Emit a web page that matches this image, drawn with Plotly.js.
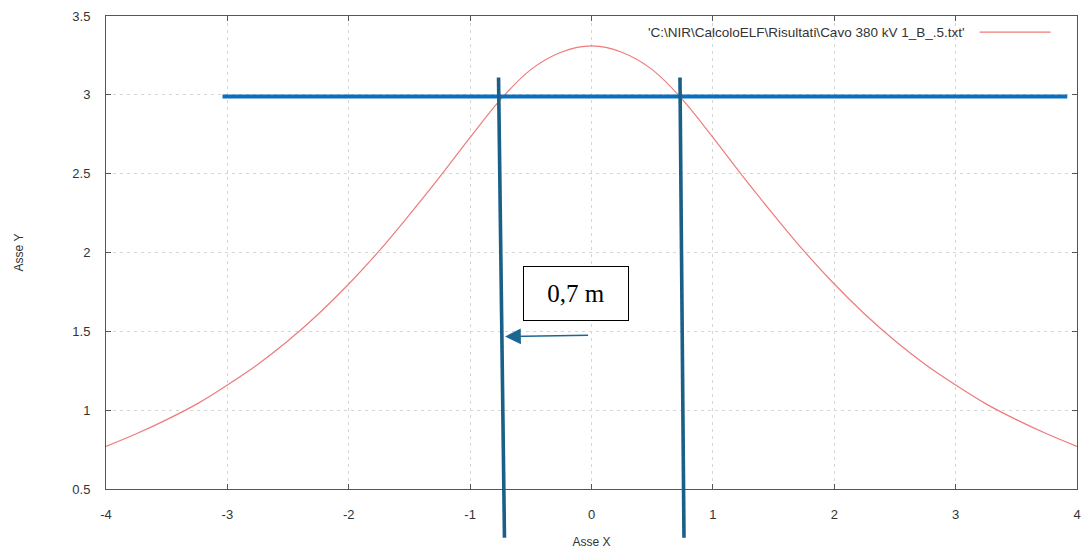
<!DOCTYPE html>
<html>
<head>
<meta charset="utf-8">
<script src="https://cdn.plot.ly/plotly-3.0.1.min.js"></script>
<style>
  html, body { margin: 0; padding: 0; background: #ffffff; }
  #chart { width: 1082px; height: 555px; }
</style>
</head>
<body>
<div id="chart"></div>
<script>
// Field profile along the transverse axis (x in metres)
const seriesName = "'C:\\NIR\\CalcoloELF\\Risultati\\Cavo 380 kV 1_B_.5.txt'";
const xValues = [-4, -3.75, -3.5, -3.25, -3, -2.75, -2.5, -2.25, -2, -1.75, -1.5, -1.25, -1, -0.75, -0.5, -0.25, 0,
                 0.25, 0.5, 0.75, 1, 1.25, 1.5, 1.75, 2, 2.25, 2.5, 2.75, 3, 3.25, 3.5, 3.75, 4];
const yValues = [0.77, 0.85, 0.94, 1.04, 1.16, 1.29, 1.44, 1.61, 1.80, 2.01, 2.24, 2.48, 2.73, 2.97, 3.16, 3.27, 3.31,
                 3.27, 3.16, 2.97, 2.73, 2.48, 2.24, 2.01, 1.80, 1.61, 1.44, 1.29, 1.16, 1.04, 0.94, 0.85, 0.77];

// Threshold and crossing markers
const thresholdY = 2.99;
const thresholdSpan = [-3.04, 3.92];
const leftCross = [-0.766, -0.717];
const rightCross = [0.729, 0.762];
const widthLabel = "0,7 m";

const axisFont = { family: "Liberation Sans, Arial, sans-serif", size: 13, color: "#333333" };
const titleFont = { family: "Liberation Sans, Arial, sans-serif", size: 12, color: "#333333" };

const trace = {
  x: xValues,
  y: yValues,
  type: "scatter",
  mode: "lines",
  name: seriesName,
  line: { color: "#EE7B7B", width: 1.2, shape: "spline" },
  showlegend: false,
  hoverinfo: "x+y"
};

const vLine = (xs, color) => ({
  type: "line", xref: "x", yref: "paper",
  x0: xs[0], y0: 0.870, x1: xs[1], y1: -0.103,
  line: { color: color, width: 3.6 }, layer: "above"
});

const layout = {
  width: 1082,
  height: 555,
  margin: { l: 106, r: 5, t: 16, b: 66 },
  paper_bgcolor: "#ffffff",
  plot_bgcolor: "#ffffff",
  font: axisFont,
  showlegend: false,
  xaxis: {
    range: [-4, 4],
    tickmode: "array",
    tickvals: [-4, -3, -2, -1, 0, 1, 2, 3, 4],
    ticktext: ["-4", "-3", "-2", "-1", "0", "1", "2", "3", "4"],
    ticks: "inside", ticklen: 5, tickcolor: "#555555",
    showline: true, linecolor: "#555555", linewidth: 1, mirror: "ticks",
    showgrid: true, gridcolor: "#d6d6d6", griddash: "3px,4px", gridwidth: 1,
    zeroline: false,
    ticklabelstandoff: 13,
    tickfont: axisFont,
    title: { text: "Asse X", font: titleFont, standoff: 17 },
    automargin: false
  },
  yaxis: {
    range: [0.5, 3.5],
    tickmode: "array",
    tickvals: [0.5, 1, 1.5, 2, 2.5, 3, 3.5],
    ticktext: ["0.5", "1", "1.5", "2", "2.5", "3", "3.5"],
    ticks: "inside", ticklen: 5, tickcolor: "#555555",
    showline: true, linecolor: "#555555", linewidth: 1, mirror: "ticks",
    showgrid: true, gridcolor: "#d6d6d6", griddash: "3px,4px", gridwidth: 1,
    zeroline: false,
    ticklabelstandoff: 12,
    tickfont: axisFont,
    title: { text: "Asse Y", font: titleFont, standoff: 46 },
    automargin: false
  },
  shapes: [
    // legend sample line
    { type: "line", xref: "paper", yref: "paper", x0: 0.8997, x1: 0.9728, y0: 0.966, y1: 0.966,
      line: { color: "#EE7B7B", width: 1.2 } },
    // threshold line
    { type: "line", xref: "x", yref: "y", x0: thresholdSpan[0], x1: thresholdSpan[1], y0: thresholdY, y1: thresholdY,
      line: { color: "#0A6FBF", width: 4 }, layer: "above" },
    vLine(leftCross, "#1A5F88"),
    vLine(rightCross, "#1A5F88")
  ],
  annotations: [
    // legend text
    { xref: "paper", yref: "paper", x: 0.8868, y: 0.966, xanchor: "right", yanchor: "middle",
      text: seriesName, showarrow: false,
      font: { family: "Liberation Sans, Arial, sans-serif", size: 13.5, color: "#333333" } },
    // width label box
    { xref: "x", yref: "y", x: -0.127, y: 1.741, xanchor: "center", yanchor: "middle",
      text: widthLabel, showarrow: false,
      width: 104, height: 53, borderpad: 0,
      bgcolor: "#ffffff", bordercolor: "#000000", borderwidth: 1,
      font: { family: "Liberation Serif, Times New Roman, serif", size: 25, color: "#000000" } },
    // arrow toward the left crossing line
    { xref: "x", yref: "y", axref: "x", ayref: "y",
      x: -0.712, y: 1.467, ax: -0.016, ay: 1.475,
      text: "", showarrow: true, arrowhead: 2, arrowsize: 2.1, arrowwidth: 1.5,
      arrowcolor: "#1A6891", standoff: 0 }
  ]
};

Plotly.newPlot("chart", [trace], layout, { staticPlot: true, displayModeBar: false });
</script>
</body>
</html>
